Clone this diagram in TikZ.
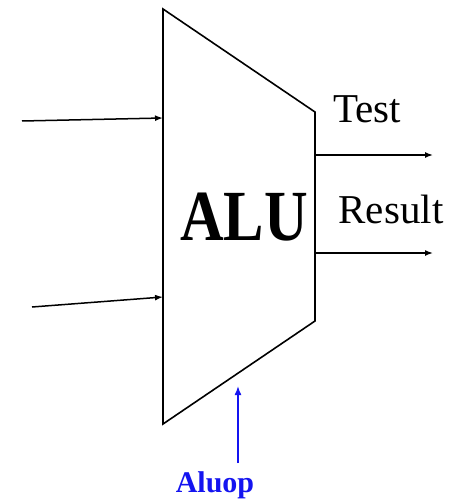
\documentclass[tikz,border=0pt]{standalone}
\usepackage{fontspec}
\setmainfont{Liberation Serif}
\usetikzlibrary{positioning, arrows.meta, calc}
\definecolor{opblue}{RGB}{20,20,240}

\begin{document}
\begin{tikzpicture}[x=1pt, y=-1pt,
  arr/.style={-{Latex[length=8pt, width=6pt]}, line width=1.5pt, black},
  oparr/.style={-{Latex[length=9pt, width=7pt]}, line width=1.5pt, opblue},
  lbl/.style={font=\fontsize{41}{43}\selectfont, inner sep=0pt, anchor=base},
]
  \useasboundingbox (0,0) rectangle (450,500);

  % ALU body
  \coordinate (tl) at (163,9);
  \coordinate (tr) at (315,112);
  \coordinate (br) at (315,321);
  \coordinate (bl) at (163,424);
  \draw[line width=1.6pt, line join=miter] (tl) -- (tr) -- (br) -- (bl) -- cycle;
  \node[font=\fontsize{72}{74}\selectfont\bfseries, inner sep=0pt, anchor=base] (alu) at (244,240) {\scalebox{0.84}[1]{ALU}};

  % inputs
  \coordinate (ina) at (22,121);
  \coordinate (inaend) at (163,118);
  \coordinate (inb) at (32,307);
  \coordinate (inbend) at (163,297);
  \draw[arr] (ina) -- (inaend);
  \draw[arr] (inb) -- (inbend);

  % outputs
  \coordinate (tsta) at (316,155);
  \coordinate (tstb) at (433,155);
  \coordinate (resa) at (316,253);
  \coordinate (resb) at (433,253);
  \draw[arr] (tsta) -- (tstb);
  \draw[arr] (resa) -- (resb);
  \node[lbl] (test) at (367,122) {Test};
  \node[lbl] (result) at (391,223) {Result};

  % control input
  \node[font=\fontsize{30}{32}\selectfont\bfseries, text=opblue, inner sep=0pt, anchor=base] (aluop) at (215,492) {Aluop};
  \coordinate (opstart) at (238,463);
  \coordinate (opend) at (238,386);
  \draw[oparr] (opstart) -- (opend);
\end{tikzpicture}
\end{document}
